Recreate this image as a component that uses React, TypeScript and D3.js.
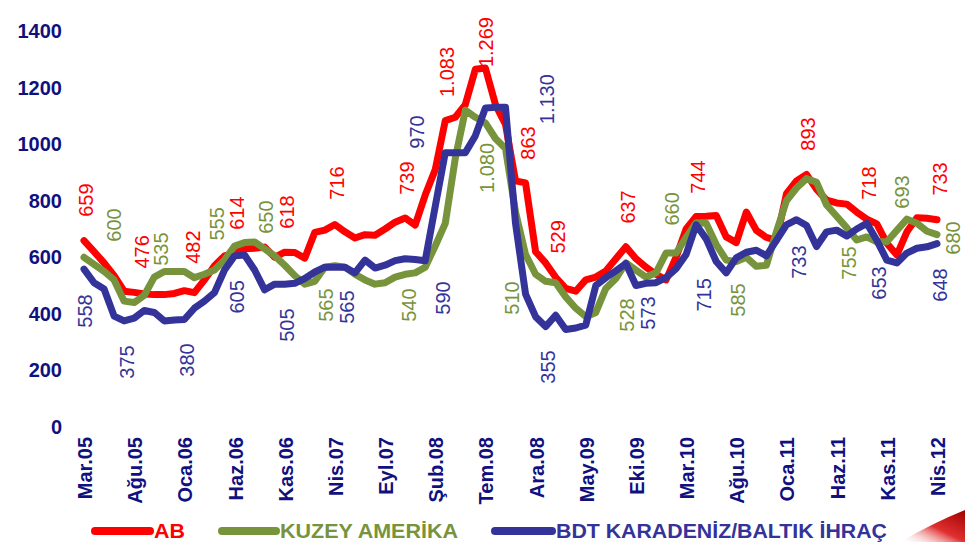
import React from "react";
import * as d3 from "d3";

const W = 965;
const H = 542;

const months = [
  "Mar.05","Nis.05","May.05","Haz.05","Tem.05","Ağu.05","Eyl.05","Eki.05","Kas.05","Ara.05",
  "Oca.06","Şub.06","Mar.06","Nis.06","May.06","Haz.06","Tem.06","Ağu.06","Eyl.06","Eki.06",
  "Kas.06","Ara.06","Oca.07","Şub.07","Mar.07","Nis.07","May.07","Haz.07","Tem.07","Ağu.07",
  "Eyl.07","Eki.07","Kas.07","Ara.07","Oca.08","Şub.08","Mar.08","Nis.08","May.08","Haz.08",
  "Tem.08","Ağu.08","Eyl.08","Eki.08","Kas.08","Ara.08","Oca.09","Şub.09","Mar.09","Nis.09",
  "May.09","Haz.09","Tem.09","Ağu.09","Eyl.09","Eki.09","Kas.09","Ara.09","Oca.10","Şub.10",
  "Mar.10","Nis.10","May.10","Haz.10","Tem.10","Ağu.10","Eyl.10","Eki.10","Kas.10","Ara.10",
  "Oca.11","Şub.11","Mar.11","Nis.11","May.11","Haz.11","Tem.11","Ağu.11","Eyl.11","Eki.11",
  "Kas.11","Ara.11","Oca.12","Şub.12","Mar.12","Nis.12"
];

const abValues = [
  659,620,580,535,480,476,470,468,468,472,482,475,520,570,605,614,630,
  632,636,600,618,617,597,688,696,716,690,668,680,678,700,724,739,714,
  820,910,1083,1095,1140,1265,1269,1140,1070,870,863,620,580,529,
  490,480,520,530,552,595,637,595,565,540,520,600,700,744,745,748,672,652,760,695,670,660,
  825,870,893,840,802,792,788,760,735,718,650,608,690,740,738,733
];

const kuzeyValues = [
  600,575,550,520,445,440,465,530,550,550,550,528,540,555,590,640,652,
  654,630,605,572,535,505,515,565,570,565,540,520,505,510,530,540,545,
  565,640,720,950,1120,1095,1075,1020,985,760,610,540,515,510,
  460,420,390,405,490,525,580,555,530,545,615,615,670,722,720,645,590,585,600,568,572,690,
  800,845,878,865,785,745,705,661,672,655,655,695,735,720,692,680
];

const bdtValues = [
  558,510,488,392,375,385,412,405,375,378,380,420,445,475,555,605,608,
  555,485,505,505,508,525,548,565,565,565,545,590,562,572,588,595,592,
  588,780,970,970,970,1030,1128,1130,1130,720,470,390,355,395,
  345,350,360,500,528,552,578,500,508,510,528,560,610,715,665,585,545,598,618,625,605,660,
  715,733,712,638,690,696,675,700,720,660,590,580,615,632,637,648
];

const yTicks = [0, 200, 400, 600, 800, 1000, 1200, 1400];
const xTickStep = 5;

const seriesNames = ["AB", "KUZEY AMERİKA", "BDT KARADENİZ/BALTIK İHRAÇ"];

// Annotation labels: text, position along month index, anchor value
const abLabelText = ["659","476","482","614","618","716","739","1.083","1.269","863","529","637","744","893","718","733"];
const abLabelIdx = [0.2,5.8,10.9,15.2,20.2,25.2,32.2,36.2,40.1,44.2,47.2,54.2,61.2,72.1,78.2,85.3];
const abLabelVal = [802,619,636,756,760,862,880,1255,1361,1004,672,778,884,1036,862,877];

const kuzeyLabelText = ["600","535","555","650","565","540","1.080","510","528","660","585","755","693","680"];
const kuzeyLabelIdx = [3.0,7.7,13.3,18.1,24.1,32.4,40.2,42.6,54.1,58.6,65.2,76.2,81.5,86.6];
const kuzeyLabelVal = [714,629,718,742,431,431,916,456,396,771,449,580,831,668];

const bdtLabelText = ["558","375","380","605","505","565","970","590","1.130","355","573","715","733","653","648"];
const bdtLabelIdx = [0.1,4.3,10.3,15.2,20.2,26.2,33.2,35.8,46.1,46.2,56.2,61.8,71.2,79.2,85.3];
const bdtLabelVal = [410,230,237,460,360,424,1043,456,1159,212,403,467,583,509,502];

const RED = "#FF0000";
const GREEN = "#77933C";
const BLUE = "#333399";
const NAVY = "#10107E";

export default function App() {
  const x = d3.scaleLinear().domain([0, months.length - 1]).range([84, 937]);
  const y = d3.scaleLinear().domain([0, 1400]).range([427, 31]);
  const line = d3
    .line<number>()
    .x((_, i) => x(i))
    .y((d) => y(d));

  const series = [
    { name: seriesNames[0], values: abValues, color: RED, lt: abLabelText, li: abLabelIdx, lv: abLabelVal },
    { name: seriesNames[1], values: kuzeyValues, color: GREEN, lt: kuzeyLabelText, li: kuzeyLabelIdx, lv: kuzeyLabelVal },
    { name: seriesNames[2], values: bdtValues, color: BLUE, lt: bdtLabelText, li: bdtLabelIdx, lv: bdtLabelVal },
  ];

  const tickIdx = d3.range(0, months.length, xTickStep);

  const legendItems = [
    { x1: 95, x2: 150, tx: 154, tw: 31 },
    { x1: 222, x2: 276, tx: 280, tw: 178 },
    { x1: 495, x2: 552, tx: 556, tw: 331 },
  ];

  return (
    <svg
      width={W}
      height={H}
      style={{ position: "absolute", left: 0, top: 0, background: "#fff" }}
      fontFamily="Arial, 'Liberation Sans', Helvetica, sans-serif"
    >
      <defs>
        <linearGradient id="swoosh" x1="0" y1="1" x2="1" y2="0">
          <stop offset="0" stopColor="#ffffff" stopOpacity="0" />
          <stop offset="0.5" stopColor="#e03030" />
          <stop offset="1" stopColor="#a00000" />
        </linearGradient>
      </defs>
      <rect width={W} height={H} fill="#fff" />
      <path d="M 900 542 Q 935 522 965 510 L 965 542 Z" fill="url(#swoosh)" />

      {/* y axis labels */}
      {yTicks.map((t) => (
        <text
          key={t}
          x={62}
          y={y(t)}
          textAnchor="end"
          dominantBaseline="central"
          fontSize={20}
          fontWeight="bold"
          fill={NAVY}
        >
          {t}
        </text>
      ))}

      {/* x axis labels */}
      {tickIdx.map((i) => (
        <text
          key={i}
          transform={`translate(${x(i) + 1},${437}) rotate(-90)`}
          textAnchor="end"
          dominantBaseline="central"
          fontSize={20}
          fontWeight="bold"
          fill={NAVY}
        >
          {months[i]}
        </text>
      ))}

      {/* lines */}
      {series.map((s) => (
        <path
          key={s.name}
          d={line(s.values) || ""}
          fill="none"
          stroke={s.color}
          strokeWidth={7}
          strokeLinejoin="round"
          strokeLinecap="round"
        />
      ))}

      {/* data labels */}
      {series.map((s) =>
        s.lt.map((t, k) => (
          <text
            key={s.name + k}
            transform={`translate(${x(s.li[k])},${y(s.lv[k])}) rotate(-90)`}
            textAnchor="middle"
            dominantBaseline="central"
            fontSize={20}
            fill={s.color}
          >
            {t}
          </text>
        ))
      )}

      {/* legend */}
      {series.map((s, k) => (
        <g key={"lg" + k}>
          <line
            x1={legendItems[k].x1}
            x2={legendItems[k].x2}
            y1={531}
            y2={531}
            stroke={s.color}
            strokeWidth={8}
            strokeLinecap="round"
          />
          <text
            x={legendItems[k].tx}
            y={538}
            fontSize={21}
            fontWeight="bold"
            fill={s.color}
            textLength={legendItems[k].tw}
            lengthAdjust="spacingAndGlyphs"
          >
            {s.name}
          </text>
        </g>
      ))}
    </svg>
  );
}
